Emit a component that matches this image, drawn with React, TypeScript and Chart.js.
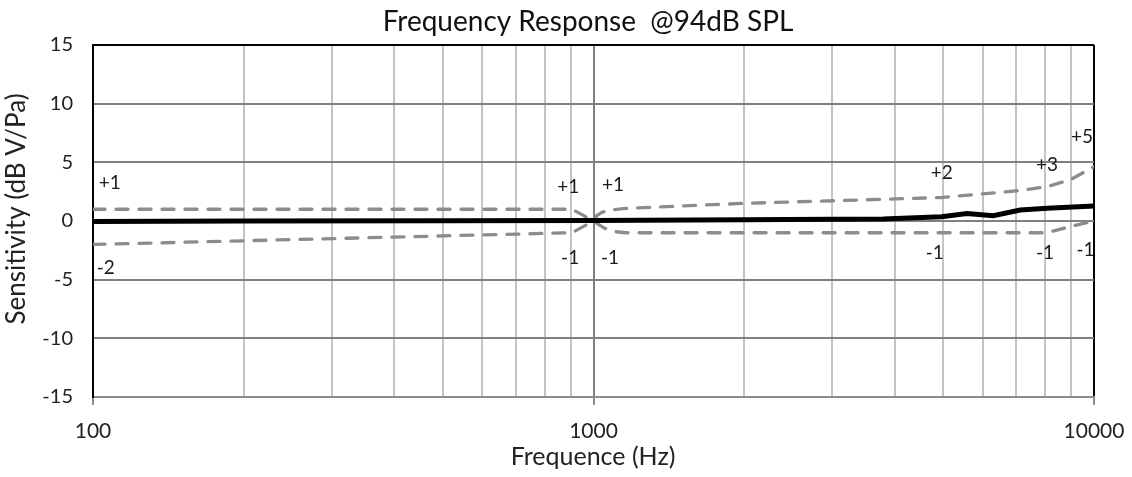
import React, { useEffect, useRef } from "react";
import { Chart, registerables } from "chart.js";

Chart.register(...registerables);

// ---- Data ----
const measuredFreq = [100, 200, 500, 1000, 2000, 3000, 3788, 4960, 5575, 6290, 7120, 8060, 10000];
const measuredDb = [-0.05, 0, 0.02, 0.05, 0.1, 0.14, 0.17, 0.37, 0.64, 0.45, 0.94, 1.08, 1.28];

const upperFreq = [100, 906, 1000, 1015, 1040, 1100, 1146, 1989, 3788, 4960, 7120, 8060, 8950, 10000];
const upperDb = [1, 1, 0, 0.45, 0.75, 0.97, 1.06, 1.5, 1.85, 2.0, 2.6, 2.93, 3.5, 4.63];

const lowerFreq = [100, 906, 1000, 1050, 1100, 1160, 8060, 8950, 10000];
const lowerDb = [-2, -1, 0, -0.6, -0.9, -1, -1, -0.48, 0];

const xGridValues = [100, 200, 300, 400, 500, 600, 700, 800, 900, 1000, 2000, 3000, 4000, 5000, 6000, 7000, 8000, 9000, 10000];
const xMajorValues = [100, 1000, 10000];
const xTickLabels = ["100", "1000", "10000"];
const yTickValues = [-15, -10, -5, 0, 5, 10, 15];

const noteTexts = ["+1", "-2", "+1", "-1", "+1", "-1", "+2", "-1", "+3", "-1", "+5", "-1"];
const noteFreq = [108, 106, 890, 898, 1094, 1079, 4966, 4808, 8054, 7980, 9461, 9620];
const noteDb = [3.24, -4.0, 2.9, -3.15, 3.07, -3.15, 4.1, -2.7, 4.8, -2.7, 7.2, -2.5];

const TITLE = "Frequency Response  @94dB SPL";
const X_TITLE = "Frequence (Hz)";
const Y_TITLE = "Sensitivity (dB V/Pa)";

const FONT = "Lato, 'Open Sans', sans-serif";

const toPoints = (xs: number[], ys: number[]) => xs.map((x, i) => ({ x, y: ys[i] }));

export default function App() {
  const canvasRef = useRef<HTMLCanvasElement | null>(null);

  useEffect(() => {
    const canvas = canvasRef.current;
    if (!canvas) return;

    const textPlugin = {
      id: "textPlugin",
      afterDraw(chart: any) {
        const ctx = chart.ctx;
        const xs = chart.scales.x;
        const ys = chart.scales.y;
        ctx.save();
        // notes
        ctx.fillStyle = "#1a1a1a";
        ctx.font = `19px ${FONT}`;
        ctx.textAlign = "center";
        ctx.textBaseline = "middle";
        noteTexts.forEach((t, i) => {
          ctx.fillText(t, xs.getPixelForValue(noteFreq[i]), ys.getPixelForValue(noteDb[i]));
        });
        // title
        ctx.font = `28px ${FONT}`;
        ctx.textBaseline = "alphabetic";
        ctx.fillStyle = "#111";
        ctx.fillText(TITLE, 588, 31);
        // x title
        ctx.font = `25px ${FONT}`;
        ctx.fillStyle = "#222";
        ctx.fillText(X_TITLE, 593, 465);
        // y title
        ctx.translate(25, 209);
        ctx.rotate(-Math.PI / 2);
        ctx.font = `26px ${FONT}`;
        ctx.fillText(Y_TITLE, 0, 0);
        ctx.restore();
      },
    };

    const chart = new Chart(canvas, {
      type: "scatter",
      data: {
        datasets: [
          {
            label: "measured",
            data: toPoints(measuredFreq, measuredDb),
            showLine: true,
            borderColor: "#000",
            borderWidth: 5,
            pointRadius: 0,
            tension: 0,
            order: 0,
          },
          {
            label: "upper",
            data: toPoints(upperFreq, upperDb),
            showLine: true,
            borderColor: "#8c8c8c",
            borderWidth: 3.3,
            borderDash: [12, 11],
            borderCapStyle: "round",
            pointRadius: 0,
            tension: 0,
            order: 1,
          },
          {
            label: "lower",
            data: toPoints(lowerFreq, lowerDb),
            showLine: true,
            borderColor: "#8c8c8c",
            borderWidth: 3.3,
            borderDash: [12, 11],
            borderCapStyle: "round",
            pointRadius: 0,
            tension: 0,
            order: 1,
          },
        ],
      },
      options: {
        animation: false,
        responsive: false,
        maintainAspectRatio: false,
        layout: { padding: { top: 45, right: 38, left: 0, bottom: 0 } },
        plugins: {
          legend: { display: false },
          title: { display: false },
          tooltip: { enabled: false },
        },
        scales: {
          x: {
            type: "logarithmic",
            min: 100,
            max: 10000,
            afterFit: (s: any) => {
              s.height = 80;
              s.paddingLeft = 0;
              s.paddingRight = 0;
            },
            afterBuildTicks: (s: any) => {
              s.ticks = xGridValues.map((v) => ({ value: v }));
            },
            ticks: {
              autoSkip: false,
              maxRotation: 0,
              minRotation: 0,
              padding: 14,
              color: "#222",
              font: { family: FONT, size: 21 },
              callback: (v: any) => {
                const i = xMajorValues.indexOf(Number(v));
                return i >= 0 ? xTickLabels[i] : "";
              },
            },
            grid: {
              lineWidth: 2,
              color: (c: any) => {
                const v = c.tick ? c.tick.value : null;
                if (v === 100 || v === 10000) return "#000";
                if (v === 1000) return "#808080";
                return "#c4c4c4";
              },
              drawTicks: true,
              tickLength: 8,
              tickWidth: 2,
              tickColor: (c: any) => {
                const v = c.tick ? c.tick.value : null;
                return xMajorValues.indexOf(v) >= 0 ? "#8c8c8c" : "rgba(0,0,0,0)";
              },
            },
            border: { display: true, color: "#8c8c8c", width: 2 },
          },
          y: {
            min: -15,
            max: 15,
            afterFit: (s: any) => {
              s.width = 93;
            },
            afterBuildTicks: (s: any) => {
              s.ticks = yTickValues.map((v) => ({ value: v }));
            },
            ticks: {
              padding: 20,
              color: "#222",
              font: { family: FONT, size: 20 },
              callback: (v: any) => String(v),
            },
            grid: {
              lineWidth: 2,
              drawTicks: false,
              color: (c: any) => {
                const v = c.tick ? c.tick.value : null;
                if (v === 15) return "#000";
                return "#808080";
              },
            },
            border: { display: true, color: "#000", width: 2 },
          },
        },
      },
      plugins: [textPlugin],
    });

    return () => chart.destroy();
  }, []);

  return (
    <div style={{ position: "fixed", left: 0, top: 0, width: 1132, height: 477, background: "#fff" }}>
      <canvas ref={canvasRef} width={1132} height={477} style={{ width: 1132, height: 477, display: "block" }} />
    </div>
  );
}
